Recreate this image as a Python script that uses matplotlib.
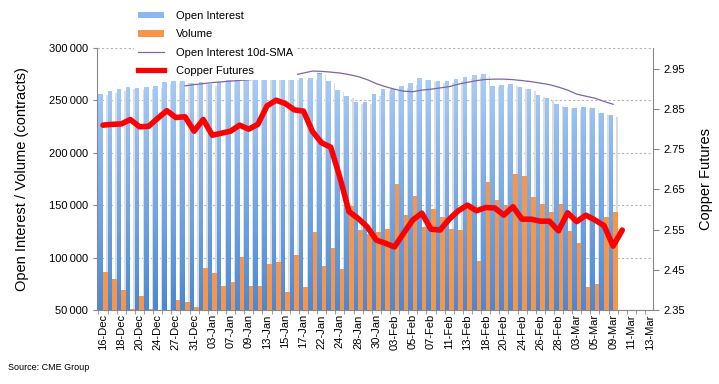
import numpy as np
import matplotlib
matplotlib.use("Agg")
import matplotlib.pyplot as plt
from matplotlib.path import Path
from matplotlib.patches import PathPatch, Patch
from matplotlib.lines import Line2D
from matplotlib.colors import LinearSegmentedColormap
from matplotlib.ticker import FuncFormatter, FixedLocator

plt.rcParams['font.family'] = ['Liberation Sans', 'DejaVu Sans']

# =========================
# data
# =========================
tick_labels = ["16-Dec", "18-Dec", "20-Dec", "24-Dec", "27-Dec", "31-Dec", "03-Jan", "07-Jan",
               "09-Jan", "13-Jan", "15-Jan", "17-Jan", "22-Jan", "24-Jan", "28-Jan", "30-Jan",
               "03-Feb", "05-Feb", "07-Feb", "11-Feb", "13-Feb", "18-Feb", "20-Feb", "24-Feb",
               "26-Feb", "28-Feb", "03-Mar", "05-Mar", "09-Mar", "11-Mar", "13-Mar"]
n_slots = 61  # trading days on the axis, every other one labelled

open_interest = [256200, 258500, 260500, 262400, 261400, 262400, 263300, 267200, 268100, 268100,
                 266200, 267200, 265200, 267800, 269700, 271000, 270300, 271000, 271000, 271000,
                 271000, 271000, 271000, 271000, 276100, 268400, 259800, 254000, 248300, 248300,
                 256000, 260700, 260700, 263600, 266500, 271000, 269400, 268400, 268400, 270000,
                 272200, 274100, 275100, 263900, 264600, 265500, 262700, 260700, 255000, 252100,
                 246400, 243500, 242500, 243500, 242500, 237700, 235800]

volume = [86700, 79700, 69500, 51000, 63400, 51000, 49000, 49000, 59600, 57700,
          52900, 90200, 85700, 73000, 77100, 100800, 73000, 73000, 94100, 96000,
          67200, 102700, 72000, 124700, 92100, 109400, 89300, 149600, 126600, 122800,
          124700, 127600, 170700, 141000, 159200, 129500, 146700, 139100, 127600, 126600,
          146700, 96900, 171700, 155400, 150000, 179300, 177400, 157600, 151500, 143900,
          151500, 125700, 114200, 72000, 74900, 139100, 143900]

sma_start = 9
oi_sma = [263900, 265050, 266000, 267000, 267700, 268400, 269100, 269650, 270300, 270800,
          271300, 271750, 274150, 276100, 278000, 277700, 277000, 276100, 274600, 272700,
          269800, 266000, 263100, 260700, 258800, 258300, 259800, 260700, 261900, 263100,
          265500, 267200, 268900, 270000, 270300, 270300, 269800, 268900, 267900, 266500,
          265050, 262700, 259800, 256000, 254000, 252100, 249000, 246300]

copper = [2.810, 2.812, 2.813, 2.824, 2.806, 2.807, 2.827, 2.846, 2.829, 2.831,
          2.795, 2.824, 2.785, 2.790, 2.795, 2.810, 2.800, 2.812, 2.858, 2.872,
          2.864, 2.848, 2.845, 2.794, 2.766, 2.755, 2.680, 2.595, 2.578, 2.557,
          2.524, 2.516, 2.507, 2.541, 2.574, 2.591, 2.551, 2.549, 2.576, 2.597,
          2.611, 2.597, 2.605, 2.604, 2.586, 2.607, 2.576, 2.576, 2.571, 2.571,
          2.547, 2.592, 2.570, 2.586, 2.574, 2.560, 2.509, 2.549]

# =========================
# figure
# =========================
fig = plt.figure(figsize=(7.19, 3.84), dpi=100)
ax = fig.add_axes([97 / 719, 1 - 310 / 384, (652.7 - 97) / 719, (310 - 48) / 384])

x_bar = np.arange(len(open_interest))
oi = np.array(open_interest)
vol = np.array(volume)

# shadow strips to the right of the blue bars
ax.bar(x_bar + 0.42, oi - 1500, width=0.16, bottom=0, color="#dcdcdc", zorder=1.8, linewidth=0)
blue = ax.bar(x_bar - 0.25, oi, width=0.5, color="#78a9e6", zorder=2, linewidth=0)
ax.bar(x_bar + 0.25, vol, width=0.5, color="#f7964a", zorder=3, linewidth=0)

# vertical gradient on the blue bars
paths = [b.get_path().transformed(b.get_patch_transform()) for b in blue]
clip = PathPatch(Path.make_compound_path(*paths), transform=ax.transData,
                 facecolor="none", edgecolor="none")
ax.add_patch(clip)
cmap_blue = LinearSegmentedColormap.from_list("oi", ["#4a88d4", "#a9cdf8"])
grad = np.linspace(0, 1, 256).reshape(-1, 1)
im = ax.imshow(grad, extent=(-1, n_slots, 50000, 275000), origin="lower", aspect="auto",
               cmap=cmap_blue, zorder=2.1)
im.set_clip_path(clip)

x_sma = np.arange(sma_start, sma_start + len(oi_sma))
ax.plot(x_sma, oi_sma, color="#8064a2", lw=0.9, zorder=5)

ax.set_xlim(-0.66, 60.34)
ax.set_ylim(50000, 300000)
ax.yaxis.set_major_locator(FixedLocator(np.arange(50000, 300001, 50000)))
ax.yaxis.set_major_formatter(FuncFormatter(lambda v, p: f"{int(v) // 1000}\u2009{int(v) % 1000:03d}"))
ax.grid(axis="y", color="#b5b5b5", linestyle=(0, (2, 2)), lw=0.8)
ax.set_axisbelow(True)

ax.set_xticks(np.arange(0, n_slots, 2))
ax.set_xticklabels(tick_labels, rotation=90, fontsize=8)
ax.set_xticks(np.arange(n_slots) - 0.5, minor=True)
ax.tick_params(axis="x", which="major", length=0, pad=3)
ax.tick_params(axis="x", which="minor", length=3, color="#888888")
ax.tick_params(axis="y", labelsize=8, length=3, color="#888888")
ax.set_ylabel("Open Interest / Volume (contracts)", fontsize=10.5, labelpad=14)

for s in ["top", "right"]:
    ax.spines[s].set_visible(False)
for s in ["left", "bottom"]:
    ax.spines[s].set_color("#888888")

# right axis: copper price
ax2 = ax.twinx()
ax2.plot(np.arange(len(copper)), copper, color="#ff0000", lw=4, solid_joinstyle="round",
         solid_capstyle="round", zorder=6)
ax2.set_ylim(2.35, 3.002)
ax2.set_yticks(np.arange(2.35, 2.96, 0.1))
ax2.yaxis.set_major_formatter(FuncFormatter(lambda v, p: f"{v:.2f}"))
ax2.tick_params(axis="y", labelsize=8, length=4, color="#888888")
ax2.set_ylabel("Copper Futures", fontsize=10.5, labelpad=10)
for s in ["top", "left", "bottom"]:
    ax2.spines[s].set_visible(False)
ax2.spines["right"].set_color("#888888")

handles = [Patch(facecolor="#8db8ee", edgecolor="none"),
           Patch(facecolor="#f7964a", edgecolor="none"),
           Line2D([], [], color="#8064a2", lw=0.9),
           Line2D([], [], color="#ff0000", lw=3.8)]
labels = ["Open Interest", "Volume", "Open Interest 10d-SMA", "Copper Futures"]
leg = fig.legend(handles, labels, loc="upper left", bbox_to_anchor=(128 / 719, 1 - 1 / 384),
                 fontsize=8, frameon=True, fancybox=False, edgecolor="none", framealpha=1,
                 handlelength=2.3, handletextpad=1.1, handleheight=0.5, labelspacing=0.75,
                 borderpad=0.4)
leg.set_zorder(10)

fig.text(8 / 719, 1 - 368 / 384, "Source: CME Group", fontsize=6.5, va="center", ha="left")

fig.savefig("out.png", dpi=100)
